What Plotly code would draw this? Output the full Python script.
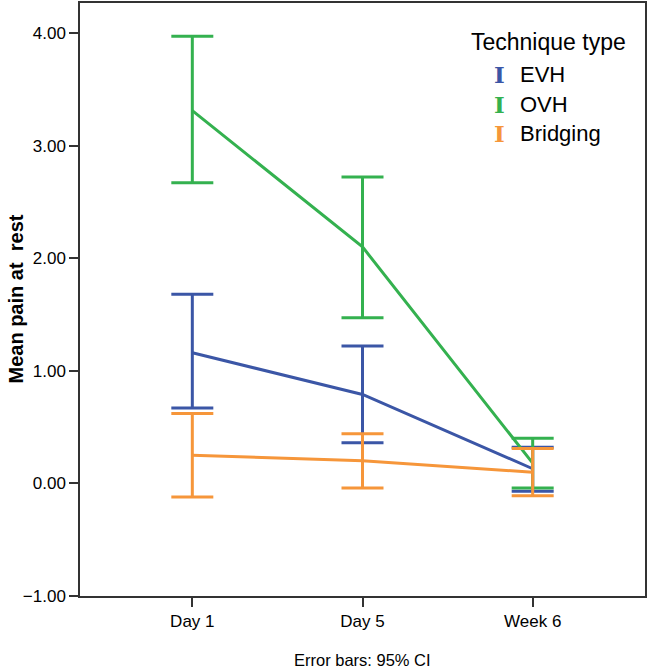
import plotly.graph_objects as go

# Mean pain at rest with 95% CI
timepoints = ["Day 1", "Day 5", "Week 6"]
techniques = ["EVH", "OVH", "Bridging"]
colors = ["#3b56a6", "#34b14f", "#f6963a"]

evh_mean = [1.16, 0.79, 0.13]
evh_lo = [0.67, 0.36, -0.07]
evh_hi = [1.68, 1.22, 0.32]

ovh_mean = [3.31, 2.10, 0.18]
ovh_lo = [2.67, 1.47, -0.04]
ovh_hi = [3.97, 2.72, 0.40]

brg_mean = [0.25, 0.20, 0.10]
brg_lo = [-0.12, -0.04, -0.11]
brg_hi = [0.62, 0.44, 0.31]

y_ticks = [-1, 0, 1, 2, 3, 4]

series = [
    (evh_mean, evh_lo, evh_hi),
    (ovh_mean, ovh_lo, ovh_hi),
    (brg_mean, brg_lo, brg_hi),
]

fig = go.Figure()

for name, color, (m, lo, hi) in zip(techniques, colors, series):
    fig.add_trace(go.Scatter(
        x=timepoints, y=m, name=name, mode="lines",
        line=dict(color=color, width=3),
        error_y=dict(
            type="data", symmetric=False,
            array=[h - v for h, v in zip(hi, m)],
            arrayminus=[v - l for v, l in zip(m, lo)],
            color=color, thickness=3, width=21,
        ),
        showlegend=False,
    ))

font = "Liberation Sans, Arial, sans-serif"

fig.update_layout(
    width=650, height=672,
    margin=dict(l=80, r=5, t=3, b=76),
    paper_bgcolor="white", plot_bgcolor="white",
    font=dict(family=font, size=16, color="black"),
)

fig.update_xaxes(
    type="category", range=[-0.66, 2.66], automargin=False,
    showline=True, mirror=True, linecolor="#333333", linewidth=1.5,
    ticks="outside", ticklen=9, tickwidth=1.5, tickcolor="#333333",
    showgrid=False, zeroline=False,
    tickfont=dict(size=17),
)
fig.update_yaxes(
    range=[-1, 4.266], tickvals=y_ticks, tickformat=".2f", automargin=False,
    showline=True, mirror=True, linecolor="#333333", linewidth=1.5,
    ticks="outside", ticklen=9, tickwidth=1.5, tickcolor="#333333",
    showgrid=False, zeroline=False,
    tickfont=dict(size=17),
)

# y-axis title and footnote
fig.add_annotation(
    text="<b>Mean pain at  rest</b>", textangle=-90,
    xref="paper", yref="paper", x=-0.115, y=0.5,
    xanchor="center", yanchor="middle", showarrow=False,
    font=dict(size=20),
)
fig.add_annotation(
    text="Error bars: 95% CI",
    xref="paper", yref="paper", x=0.5, y=-0.108,
    xanchor="center", yanchor="middle", showarrow=False,
    font=dict(size=16.5),
)

# legend drawn as text, with I-beam glyphs for the error bar icons
fig.add_annotation(
    text="Technique type",
    xref="paper", yref="paper", x=(469 - 80) / 565, y=(596 - 42) / 593,
    xanchor="left", yanchor="middle", showarrow=False,
    font=dict(size=23),
)
legend_y = [74, 104, 133]
for name, color, ly in zip(techniques, colors, legend_y):
    fig.add_annotation(
        text="<b>I</b>",
        xref="paper", yref="paper", x=(499 - 80) / 565, y=(596 - ly) / 593,
        xanchor="center", yanchor="middle", showarrow=False,
        font=dict(size=23, color=color, family="DejaVu Serif"),
        borderpad=0,
    )
    fig.add_annotation(
        text=name,
        xref="paper", yref="paper", x=(518 - 80) / 565, y=(596 - ly) / 593,
        xanchor="left", yanchor="middle", showarrow=False,
        font=dict(size=22),
    )

# drop the browser's default page margin so the figure sits at the corner
fig.write_html(
    "out.html",
    config={"displayModeBar": False},
    post_script="document.body.style.margin='0';",
)
